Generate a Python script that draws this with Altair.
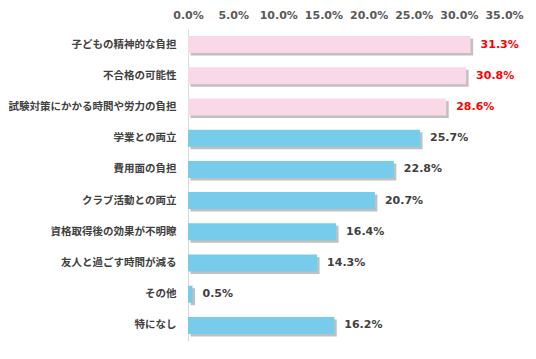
import altair as alt
import pandas as pd

categories = ["子どもの精神的な負担", "不合格の可能性", "試験対策にかかる時間や労力の負担",
              "学業との両立", "費用面の負担", "クラブ活動との両立",
              "資格取得後の効果が不明瞭", "友人と過ごす時間が減る", "その他", "特になし"]
values = [31.3, 30.8, 28.6, 25.7, 22.8, 20.7, 16.4, 14.3, 0.5, 16.2]
highlight = [True, True, True, False, False, False, False, False, False, False]
x_ticks = [0, 5, 10, 15, 20, 25, 30, 35]

df = pd.DataFrame({
    "cat": categories,
    "val": values,
    "bar_color": ["#F9D8E8" if h else "#77CBEB" for h in highlight],
    "text_color": ["#FF0000" if h else "#404040" for h in highlight],
    "label": [f"{v:.1f}%" for v in values],
})

x = alt.X("val:Q", scale=alt.Scale(domain=[0, 35], nice=False),
          axis=alt.Axis(orient="top", values=x_ticks, grid=False, domain=False, ticks=False,
                        labelExpr="format(datum.value, '.1f') + '%'", labelFont="DejaVu Sans",
                        labelFontWeight="bold", labelFontSize=11, labelColor="#595959",
                        labelPadding=9, labelOverlap=False, labelFlush=False, title=None))
y = alt.Y("cat:N", sort=categories,
          axis=alt.Axis(title=None, ticks=False, domain=True, domainColor="#D9D9D9", domainWidth=1,
                        labelFont="Noto Sans CJK JP", labelFontWeight="bold", labelFontSize=10.5,
                        labelColor="#404040", labelPadding=12, labelLimit=400))

base = alt.Chart(df)
shadow = base.mark_bar(color="#8C8C8C", opacity=0.55, size=17, xOffset=2.5, yOffset=2.5).encode(x=x, y=y)
bars = base.mark_bar(size=17).encode(x=x, y=y, color=alt.Color("bar_color:N", scale=None))
text = base.mark_text(align="left", baseline="middle", dx=10, font="DejaVu Sans", fontWeight="bold",
                      fontSize=11).encode(x=x, y=y, text="label:N",
                                          color=alt.Color("text_color:N", scale=None))

chart = alt.layer(shadow, bars, text).properties(
    width=316, height=312,
    autosize=alt.AutoSizeParams(type="none"),
    padding={"left": 180, "top": 21, "right": 20, "bottom": 10},
).configure_view(stroke=None)

chart.save("out.html", embed_options={"renderer": "svg", "actions": False})
